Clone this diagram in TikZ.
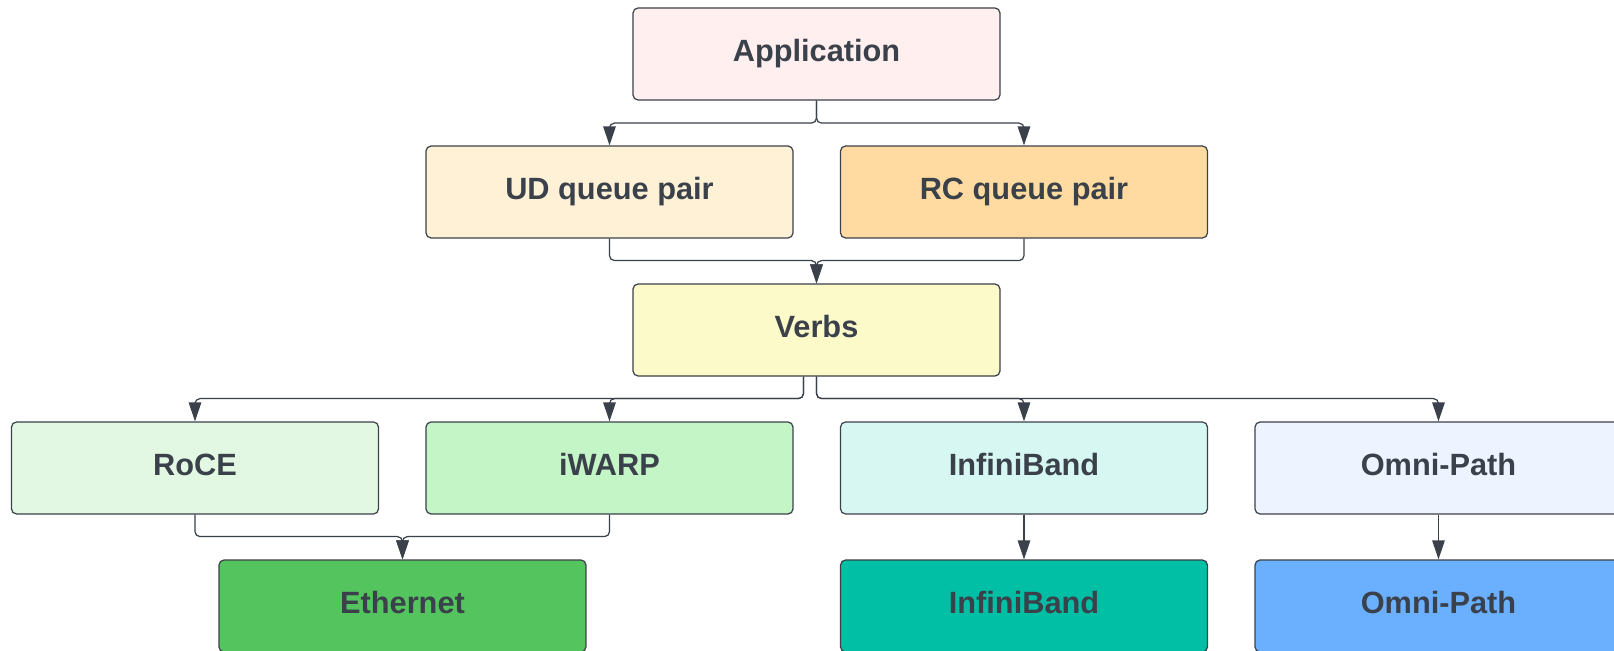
\documentclass[tikz,border=0pt]{standalone}
\usepackage{fontspec}
\setmainfont{Liberation Sans}
\usepackage{xcolor}
\usetikzlibrary{arrows.meta}

\definecolor{edge}{HTML}{3A414A}
\definecolor{appfill}{HTML}{FFEFEF}
\definecolor{udfill}{HTML}{FFF1D6}
\definecolor{rcfill}{HTML}{FFDBA1}
\definecolor{verbsfill}{HTML}{FCFAC8}
\definecolor{rocefill}{HTML}{E3F8E2}
\definecolor{iwarpfill}{HTML}{C3F5C6}
\definecolor{ibfill}{HTML}{D6F7F2}
\definecolor{opafill}{HTML}{EDF4FF}
\definecolor{ethfill}{HTML}{54C45E}
\definecolor{ibdark}{HTML}{00BFA5}
\definecolor{opadark}{HTML}{6BAFFF}

\tikzset{
  box/.style={draw=edge, line width=0.7pt, rounded corners=0.1cm,
    minimum width=7.34cm, minimum height=1.84cm, inner sep=0pt,
    text height=13pt, text depth=5pt,
    text=edge, font=\fontsize{17.5}{20}\selectfont\bfseries},
  conn/.style={draw=edge, line width=0.7pt, rounded corners=0.1cm,
    -{Triangle[length=0.38cm,width=0.25cm]}},
}

\begin{document}
\begin{tikzpicture}[x=0.02cm,y=-0.02cm]
    \useasboundingbox (0,0) rectangle (1614,651);

    % Layers
    \node[box, fill=appfill] (app) at (816.5,54) {Application};
    \node[box, fill=udfill] (udqp) at (609.5,192) {UD queue pair};
    \node[box, fill=rcfill] (rcqp) at (1024,192) {RC queue pair};
    \node[box, fill=verbsfill] (verbs) at (816.5,330) {Verbs};
    \node[box, fill=rocefill] (roce) at (195,468) {RoCE};
    \node[box, fill=iwarpfill] (iwarp) at (609.5,468) {iWARP};
    \node[box, fill=ibfill] (ib) at (1024,468) {InfiniBand};
    \node[box, fill=opafill] (opa) at (1438.5,468) {Omni-Path};
    \node[box, fill=ethfill] (eth) at (402.5,606) {Ethernet};
    \node[box, fill=ibdark] (ibnet) at (1024,606) {InfiniBand};
    \node[box, fill=opadark] (opanet) at (1438.5,606) {Omni-Path};

    % Connectors
    \draw[conn] (app.south) -- ++(0,22.5) -| (udqp.north);
    \draw[conn] (app.south) -- ++(0,22.5) -| (rcqp.north);
    \draw[conn] (udqp.south) -- ++(0,22) -| (verbs.north);
    \draw[conn] (rcqp.south) -- ++(0,22) -| (verbs.north);
    \draw[conn] ([xshift=-0.26cm]verbs.south) -- ++(0,22) -| (roce.north);
    \draw[conn] ([xshift=-0.26cm]verbs.south) -- ++(0,22) -| (iwarp.north);
    \draw[conn] (verbs.south) -- ++(0,22) -| (ib.north);
    \draw[conn] (verbs.south) -- ++(0,22) -| (opa.north);
    \draw[conn] (roce.south) -- ++(0,22) -| (eth.north);
    \draw[conn] (iwarp.south) -- ++(0,22) -| (eth.north);
    \draw[conn] (ib.south) -- (ibnet.north);
    \draw[conn] (opa.south) -- (opanet.north);
\end{tikzpicture}
\end{document}
